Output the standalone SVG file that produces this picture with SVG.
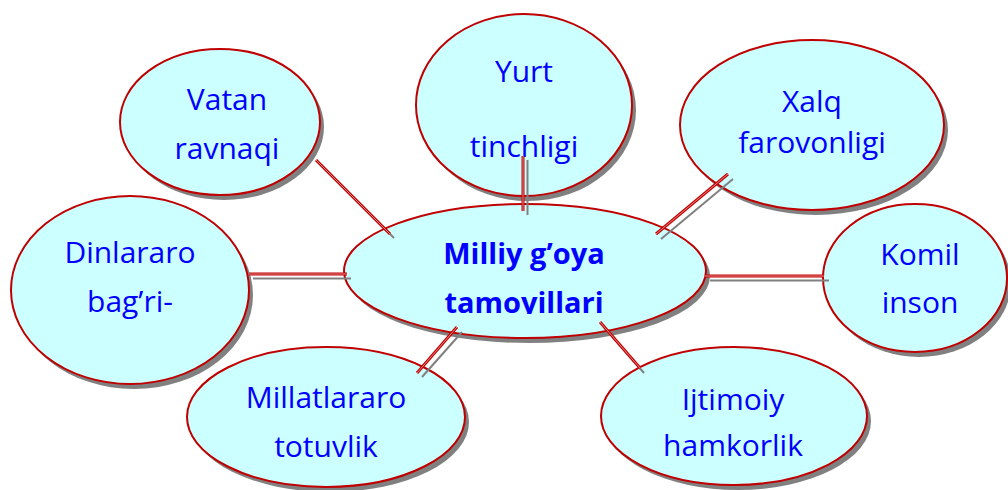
<svg xmlns="http://www.w3.org/2000/svg" width="1008" height="490" viewBox="0 0 1008 490">
<style>
.sh{fill:#808080}
.el{fill:#CCFFFF;stroke:#C00000;stroke-width:2}
.t{font-family:"Open Sans","Noto Sans",sans-serif;font-size:30px;fill:#0000FF;text-anchor:middle}
.b{font-weight:bold;font-size:29px}
.ln{stroke:#C00000;stroke-width:3;fill:none}
.li{stroke:#F2A8A8;stroke-width:0.8;fill:none}
.ls{stroke:#808080;stroke-width:2;fill:none}
</style>
<defs>
<clipPath id="clipc"><rect x="340" y="200" width="380" height="114"/></clipPath>
</defs>
<rect width="1008" height="490" fill="#FFFFFF"/>
<g id="node-vatan">
<ellipse class="sh" cx="224" cy="127" rx="100" ry="73"/>
<ellipse class="el" cx="220" cy="122" rx="100" ry="73"/>
<text class="t" x="227" y="110">Vatan</text>
<text class="t" x="227" y="159">ravnaqi</text>
</g>
<g id="node-yurt">
<ellipse class="sh" cx="528" cy="110" rx="108" ry="91"/>
<ellipse class="el" cx="524" cy="105" rx="108" ry="91"/>
<text class="t" x="524" y="82">Yurt</text>
<text class="t" x="524" y="157">tinchligi</text>
</g>
<g id="node-xalq">
<ellipse class="sh" cx="816" cy="130" rx="132" ry="85"/>
<ellipse class="el" cx="812" cy="125" rx="132" ry="85"/>
<text class="t" x="812" y="112">Xalq</text>
<text class="t" x="812" y="153">farovonligi</text>
</g>
<g id="node-dinlararo">
<ellipse class="sh" cx="134" cy="295" rx="119" ry="94"/>
<ellipse class="el" cx="130" cy="290" rx="119" ry="94"/>
<text class="t" x="130" y="263">Dinlararo</text>
<text class="t" x="130" y="312">bag’ri-</text>
</g>
<g id="node-komil">
<ellipse class="sh" cx="919" cy="283" rx="92" ry="74"/>
<ellipse class="el" cx="915" cy="278" rx="92" ry="74"/>
<text class="t" x="920" y="265">Komil</text>
<text class="t" x="920" y="313">inson</text>
</g>
<g id="node-millatlararo">
<ellipse class="sh" cx="330" cy="422" rx="139" ry="70"/>
<ellipse class="el" cx="326" cy="417" rx="139" ry="70"/>
<text class="t" x="326" y="408">Millatlararo</text>
<text class="t" x="326" y="457">totuvlik</text>
</g>
<g id="node-ijtimoiy">
<ellipse class="sh" cx="738" cy="421" rx="133" ry="69"/>
<ellipse class="el" cx="734" cy="416" rx="133" ry="69"/>
<text class="t" x="733" y="410">Ijtimoiy</text>
<text class="t" x="733" y="456">hamkorlik</text>
</g>
<g id="node-center">
<ellipse class="sh" cx="529" cy="276" rx="181" ry="67"/>
<ellipse class="el" cx="525" cy="271" rx="181" ry="67"/>
<text class="t b" x="524" y="264">Milliy g’oya</text>
<text class="t b" x="524" y="313" clip-path="url(#clipc)">tamoyillari</text>
</g>
<g id="connectors">
<line class="ls" x1="320" y1="164" x2="394" y2="238"/>
<line class="ln" x1="316" y1="160" x2="390" y2="234"/>
<line class="li" x1="316" y1="160" x2="390" y2="234"/>
<line class="ls" x1="527.5" y1="160" x2="527.5" y2="215"/>
<line class="ln" x1="523" y1="156" x2="523" y2="211"/>
<line class="li" x1="523" y1="156" x2="523" y2="211"/>
<line class="ls" x1="733" y1="179" x2="661" y2="239"/>
<line class="ln" x1="728" y1="174" x2="656" y2="234"/>
<line class="li" x1="728" y1="174" x2="656" y2="234"/>
<line class="ls" x1="253" y1="278.5" x2="351" y2="278.5"/>
<line class="ln" x1="249" y1="274" x2="347" y2="274"/>
<line class="li" x1="249" y1="274" x2="347" y2="274"/>
<line class="ls" x1="710" y1="280.5" x2="829" y2="280.5"/>
<line class="ln" x1="705" y1="276" x2="824" y2="276"/>
<line class="li" x1="705" y1="276" x2="824" y2="276"/>
<line class="ls" x1="462" y1="332" x2="422" y2="377"/>
<line class="ln" x1="457" y1="327" x2="417" y2="373"/>
<line class="li" x1="457" y1="327" x2="417" y2="373"/>
<line class="ls" x1="604" y1="327" x2="644" y2="373"/>
<line class="ln" x1="600" y1="322" x2="640" y2="368"/>
<line class="li" x1="600" y1="322" x2="640" y2="368"/>
</g>
</svg>
